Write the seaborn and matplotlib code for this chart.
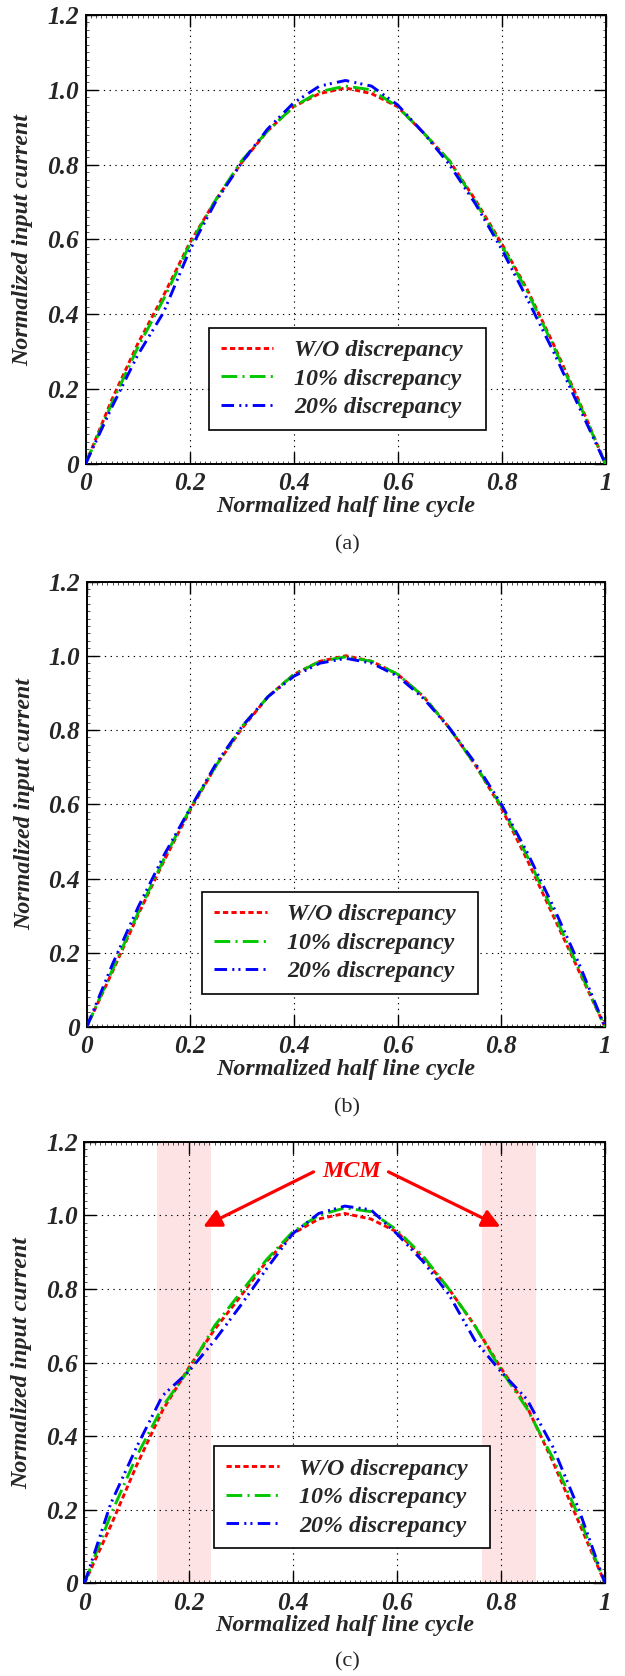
import numpy as np
import pandas as pd
import matplotlib
matplotlib.use("Agg")
import matplotlib.pyplot as plt
import seaborn as sns
from matplotlib.ticker import MultipleLocator

# ---------------- data ----------------
x_cycle = [0.00, 0.05, 0.10, 0.15, 0.20, 0.25, 0.30, 0.35, 0.40, 0.45, 0.50,
           0.55, 0.60, 0.65, 0.70, 0.75, 0.80, 0.85, 0.90, 0.95, 1.00]

# panel (a)
a_wo = [0, 0.17, 0.32, 0.45, 0.59, 0.705, 0.805, 0.89, 0.955, 0.99, 1.005,
        0.99, 0.955, 0.885, 0.81, 0.705, 0.59, 0.465, 0.32, 0.165, 0]
a_10 = [0, 0.16, 0.31, 0.44, 0.585, 0.705, 0.81, 0.89, 0.955, 0.995, 1.01,
        1.0, 0.955, 0.885, 0.81, 0.70, 0.585, 0.46, 0.315, 0.16, 0]
a_20 = [0, 0.15, 0.29, 0.405, 0.57, 0.70, 0.805, 0.895, 0.965, 1.01, 1.025,
        1.01, 0.96, 0.885, 0.80, 0.695, 0.575, 0.44, 0.30, 0.15, 0]

# panel (b)
b_wo = [0, 0.15, 0.305, 0.45, 0.585, 0.705, 0.805, 0.89, 0.95, 0.985, 1.0,
        0.985, 0.95, 0.89, 0.805, 0.705, 0.59, 0.45, 0.30, 0.15, 0]
b_10 = [0, 0.155, 0.31, 0.455, 0.59, 0.705, 0.81, 0.89, 0.95, 0.985, 0.997,
        0.985, 0.95, 0.89, 0.805, 0.705, 0.595, 0.46, 0.31, 0.155, 0]
b_20 = [0, 0.17, 0.325, 0.465, 0.59, 0.71, 0.81, 0.89, 0.945, 0.98, 0.993,
        0.98, 0.945, 0.885, 0.805, 0.71, 0.60, 0.47, 0.325, 0.17, 0]

# panel (c)
c_wo = [0, 0.155, 0.32, 0.47, 0.585, 0.69, 0.78, 0.875, 0.95, 0.99, 1.005,
        0.99, 0.955, 0.885, 0.80, 0.70, 0.585, 0.48, 0.33, 0.165, 0]
c_10 = [0, 0.185, 0.345, 0.48, 0.58, 0.70, 0.79, 0.88, 0.955, 1.0, 1.02,
        1.01, 0.96, 0.89, 0.80, 0.70, 0.58, 0.475, 0.34, 0.18, 0]
c_20 = [0, 0.215, 0.37, 0.51, 0.575, 0.66, 0.755, 0.855, 0.95, 1.005, 1.025,
        1.015, 0.95, 0.875, 0.785, 0.66, 0.575, 0.50, 0.37, 0.20, 0]

series_labels = ["W/O discrepancy", "10% discrepancy", "20% discrepancy"]
x_ticks = [0, 0.2, 0.4, 0.6, 0.8, 1.0]
x_ticklabels = ["0", "0.2", "0.4", "0.6", "0.8", "1"]
y_ticks = [0, 0.2, 0.4, 0.6, 0.8, 1.0, 1.2]
y_ticklabels = ["0", "0.2", "0.4", "0.6", "0.8", "1.0", "1.2"]
panel_tags = ["(a)", "(b)", "(c)"]
mcm_spans = [(0.1385, 0.2435), (0.763, 0.868)]
mcm_label = "MCM"
x_title = "Normalized half line cycle"
y_title = "Normalized input current"

# ---------------- style ----------------
sns.set_style("ticks")
plt.rcParams['font.family'] = ['Liberation Serif', 'DejaVu Serif']

colors = ["#ff0000", "#00c800", "#0000ff"]
styles = [(0, (1.8, 1.1)), (0, (5.4, 1.8, 0.7, 1.8)), (0, (4.3, 1.8, 0.7, 1.4, 0.7, 1.8))]

FS = 17.3
bi = dict(fontsize=FS, fontweight='bold', fontstyle='italic')
bi_tick = dict(fontsize=18.2, fontweight='bold', fontstyle='italic')

fig = plt.figure(figsize=(6.25, 16.76), dpi=100)
W, H = 625.0, 1676.0
# axes pixel boxes: (left, right, top, bottom)
boxes = [(85.5, 605.5, 15.0, 464.0),
         (86.7, 605.0, 581.5, 1027.0),
         (84.5, 605.0, 1141.7, 1583.3)]
# legend boxes in axes fraction: (x0, y0, width, height)
legend_boxes = [(0.2375, 0.091, 0.533, 0.212),
                (0.2234, 0.090, 0.532, 0.213),
                (0.2496, 0.098, 0.530, 0.212)]
tag_y = [544.6, 1108.0, 1662.0]

panels = [(a_wo, a_10, a_20), (b_wo, b_10, b_20), (c_wo, c_10, c_20)]

for i, (box, data) in enumerate(zip(boxes, panels)):
    l, r, t, b = box
    ax = fig.add_axes([l / W, 1 - b / H, (r - l) / W, (b - t) / H])
    ax.set_axisbelow(True)
    if i == 2:
        for s0, s1 in mcm_spans:
            ax.axvspan(s0, s1, color="#fde3e3", lw=0, zorder=0)
    df = pd.DataFrame({"x": x_cycle, "wo": data[0], "p10": data[1], "p20": data[2]})
    for col, lab, c, ls in zip(["wo", "p10", "p20"], series_labels, colors, styles):
        sns.lineplot(data=df, x="x", y=col, ax=ax, color=c, linestyle=ls,
                     linewidth=2.1, label=lab, sort=False, estimator=None, zorder=3)
    ax.set_xlim(0, 1)
    ax.set_ylim(0, 1.2)
    ax.set_xticks(x_ticks)
    ax.set_xticklabels(x_ticklabels, **bi_tick)
    ax.set_yticks(y_ticks)
    ax.set_yticklabels(y_ticklabels, **bi_tick)
    ax.xaxis.set_minor_locator(MultipleLocator(0.01))
    ax.yaxis.set_minor_locator(MultipleLocator(0.02))
    ax.tick_params(which='major', direction='in', length=8.5, width=1.0,
                   top=True, right=True, color='black')
    ax.tick_params(axis='x', which='major', pad=6.0)
    ax.tick_params(axis='y', which='major', pad=5.0)
    ax.tick_params(which='minor', direction='in', length=2.2, width=0.6,
                   top=True, right=True, color='#333333')
    ax.grid(True, which='major', color='black', linestyle=(0, (1.2, 4.0)), linewidth=0.8)
    for sp in ax.spines.values():
        sp.set_linewidth(1.4)
        sp.set_color('black')
    ax.set_xlabel(x_title, **bi)
    ax.set_ylabel(y_title, **bi)
    ax.xaxis.set_label_coords(0.5, -0.072)
    ax.yaxis.set_label_coords(-0.10, 0.5)
    leg = ax.legend(loc='upper left', bbox_to_anchor=legend_boxes[i], mode='expand',
                    borderaxespad=0, frameon=True, fancybox=False, shadow=False,
                    prop=dict(family='Liberation Serif', size=FS, weight='bold', style='italic'),
                    handlelength=2.2, handletextpad=0.85, borderpad=0.48,
                    labelspacing=0.28)
    leg.get_frame().set_edgecolor('black')
    leg.get_frame().set_linewidth(1.2)
    leg.get_frame().set_alpha(1.0)
    if i == 2:
        ax.text(0.513, 1.118, mcm_label, color='red', ha='center', va='center', **bi)
        ax.annotate('', xy=(0.228, 0.969), xytext=(0.44, 1.118),
                    arrowprops=dict(arrowstyle='-|>', color='red', lw=2.3,
                                    mutation_scale=27, shrinkA=0, shrinkB=0))
        ax.annotate('', xy=(0.799, 0.969), xytext=(0.584, 1.118),
                    arrowprops=dict(arrowstyle='-|>', color='red', lw=2.3,
                                    mutation_scale=27, shrinkA=0, shrinkB=0))
    fig.text(347 / W, 1 - tag_y[i] / H, panel_tags[i], ha='center', va='center',
             fontsize=16, family='Liberation Serif')

fig.savefig("out.png", dpi=100)
